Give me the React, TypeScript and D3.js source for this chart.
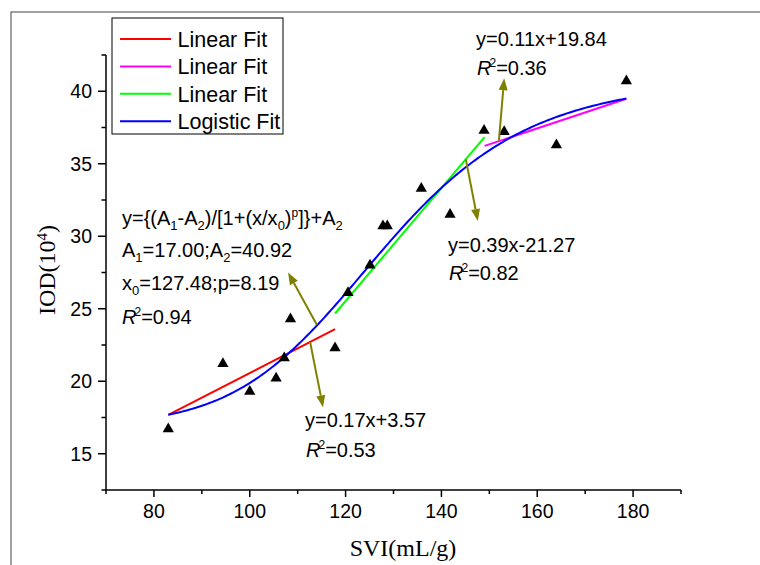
import React from 'react';
import * as d3 from 'd3';

// Scatter data (SVI in mL/g, IOD in 10^4)
const svi = [83, 94.4, 100, 105.5, 107.2, 108.5, 117.8, 120.5, 125.1, 127.8, 128.7, 135.8, 141.8, 148.9, 153.1, 164, 178.6];
const iod = [16.7, 21.2, 19.3, 20.2, 21.6, 24.3, 22.3, 26.1, 28.0, 30.7, 30.7, 33.3, 31.5, 37.3, 37.2, 36.3, 40.7];

const xMajorTicks = [80, 100, 120, 140, 160, 180];
const xMinorTicks = [70, 90, 110, 130, 150, 170, 190];
const yMajorTicks = [15, 20, 25, 30, 35, 40];
const yMinorTicks = [12.5, 17.5, 22.5, 27.5, 32.5, 37.5, 42.5];

const fitNames = ['Linear Fit', 'Linear Fit', 'Linear Fit', 'Logistic Fit'];
const fitColors = ['#ff0000', '#ff00ff', '#00ff00', '#0000ff'];

// linear fits: red, magenta, green
const linearSlopes = [0.17, 0.11, 0.39];
const linearIntercepts = [3.57, 19.84, -21.27];
const linearStarts = [83, 149, 117.8];
const linearEnds = [117.8, 178.6, 149];

// logistic fit
const logA1 = 17.0;
const logA2 = 40.92;
const logX0 = 127.48;
const logP = 8.19;
const logRange = [83, 178.6];

// annotation arrows (data coordinates): from point on fit -> arrow head
const arrowFrom = [[114, 23.9], [112.6, 22.7], [152, 36.6], [145.1, 35.3]];
const arrowTo = [[108, 27.5], [115.3, 18.2], [153.1, 40.9], [147.6, 31.05]];

const SANS = "'Liberation Sans', Arial, sans-serif";
const SERIF = "'Liberation Serif', 'Times New Roman', serif";

type Seg = { t: string; sub?: boolean; sup?: boolean; it?: boolean; dx?: number };

function Rich({ x, y, segs, size }: { x: number; y: number; segs: Seg[]; size: number }) {
  let shift = 0;
  const spans = segs.map((s, i) => {
    const target = s.sub ? 5 : s.sup ? -8 : 0;
    const dy = target - shift;
    shift = target;
    const fs = s.sub ? 13 : s.sup ? 12 : size;
    return (
      <tspan key={i} dy={dy} dx={s.dx || 0} fontSize={fs} fontStyle={s.it ? 'italic' : 'normal'}>
        {s.t}
      </tspan>
    );
  });
  return (
    <text x={x} y={y} fontSize={size} fontFamily={SANS} fill="#000">
      {spans}
    </text>
  );
}

const R2 = (v: string): Seg[] => [
  { t: 'R', it: true },
  { t: '2', sup: true, dx: -2 },
  { t: '=' + v },
];

export default function App() {
  const x = d3.scaleLinear().domain([70, 190]).range([106, 681]);
  const y = d3.scaleLinear().domain([12.5, 42.5]).range([490, 55]);

  const lineGen = d3
    .line<[number, number]>()
    .x((d) => x(d[0]))
    .y((d) => y(d[1]));

  const logistic = (v: number) => (logA1 - logA2) / (1 + Math.pow(v / logX0, logP)) + logA2;
  const logPts: [number, number][] = d3
    .range(0, 201)
    .map((i) => logRange[0] + ((logRange[1] - logRange[0]) * i) / 200)
    .map((v) => [v, logistic(v)] as [number, number]);

  const tri = d3.symbol().type(d3.symbolTriangle).size(55)();

  const olive = '#808000';

  return (
    <svg
      width={760}
      height={565}
      style={{ position: 'absolute', left: 0, top: 0, background: '#fff' }}
    >
      <rect x={0} y={0} width={760} height={565} fill="#fff" />
      {/* frame */}
      <rect x={11} y={12} width={800} height={600} fill="none" stroke="#444" strokeWidth={1} />

      {/* fit lines */}
      {linearSlopes.map((m, i) => (
        <path
          key={'lf' + i}
          d={lineGen([
            [linearStarts[i], m * linearStarts[i] + linearIntercepts[i]],
            [linearEnds[i], m * linearEnds[i] + linearIntercepts[i]],
          ]) || ''}
          stroke={fitColors[i]}
          strokeWidth={2}
          fill="none"
        />
      ))}
      <path d={lineGen(logPts) || ''} stroke={fitColors[3]} strokeWidth={2} fill="none" />

      {/* points */}
      {svi.map((v, i) => (
        <path key={'p' + i} d={tri || ''} transform={`translate(${x(v)},${y(iod[i])})`} fill="#000" />
      ))}

      {/* arrows */}
      {arrowFrom.map((f, i) => {
        const x1 = x(f[0]);
        const y1 = y(f[1]);
        const x2 = x(arrowTo[i][0]);
        const y2 = y(arrowTo[i][1]);
        const ang = Math.atan2(y2 - y1, x2 - x1);
        const L = 12;
        const W = 4.5;
        const bx = x2 - L * Math.cos(ang);
        const by = y2 - L * Math.sin(ang);
        const px = -Math.sin(ang) * W;
        const py = Math.cos(ang) * W;
        return (
          <g key={'a' + i}>
            <line x1={x1} y1={y1} x2={bx} y2={by} stroke={olive} strokeWidth={2} />
            <polygon points={`${x2},${y2} ${bx + px},${by + py} ${bx - px},${by - py}`} fill={olive} />
          </g>
        );
      })}

      {/* axes */}
      <line x1={x(70)} x2={x(190)} y1={y(12.5)} y2={y(12.5)} stroke="#000" strokeWidth={1.5} />
      <line x1={x(70)} x2={x(70)} y1={y(12.5)} y2={y(42.5)} stroke="#000" strokeWidth={1.5} />
      {xMajorTicks.map((t) => (
        <g key={'xt' + t}>
          <line x1={x(t)} x2={x(t)} y1={y(12.5)} y2={y(12.5) + 7} stroke="#000" strokeWidth={1.5} />
          <text x={x(t)} y={518} textAnchor="middle" fontSize={19.5} fontFamily={SANS}>
            {t}
          </text>
        </g>
      ))}
      {xMinorTicks.map((t) => (
        <line key={'xm' + t} x1={x(t)} x2={x(t)} y1={y(12.5)} y2={y(12.5) + 4} stroke="#000" strokeWidth={1.5} />
      ))}
      {yMajorTicks.map((t) => (
        <g key={'yt' + t}>
          <line x1={x(70) - 8} x2={x(70)} y1={y(t)} y2={y(t)} stroke="#000" strokeWidth={1.5} />
          <text x={92} y={y(t) + 7} textAnchor="end" fontSize={19.5} fontFamily={SANS}>
            {t}
          </text>
        </g>
      ))}
      {yMinorTicks.map((t) => (
        <line key={'ym' + t} x1={x(70) - 4.5} x2={x(70)} y1={y(t)} y2={y(t)} stroke="#000" strokeWidth={1.5} />
      ))}

      {/* axis titles */}
      <text x={403} y={556} textAnchor="middle" fontSize={24} fontFamily={SERIF}>
        SVI(mL/g)
      </text>
      <text transform="translate(55,270) rotate(-90)" textAnchor="middle" fontSize={24} fontFamily={SERIF}>
        <tspan>IOD(10</tspan>
        <tspan dy={-8} fontSize={15}>4</tspan>
        <tspan dy={8}>)</tspan>
      </text>

      {/* legend */}
      <rect x={112} y={18} width={171} height={116} fill="#fff" stroke="#000" strokeWidth={1} />
      {fitNames.map((n, i) => {
        const ry = 39 + i * 27.4;
        return (
          <g key={'lg' + i}>
            <line x1={120} x2={171} y1={ry} y2={ry} stroke={fitColors[i]} strokeWidth={2} />
            <text x={177.5} y={ry + 7.7} fontSize={21.5} fontFamily={SANS}>
              {n}
            </text>
          </g>
        );
      })}

      {/* logistic annotation */}
      <Rich
        x={122}
        y={225}
        size={20}
        segs={[
          { t: 'y={(A' },
          { t: '1', sub: true },
          { t: '-A' },
          { t: '2', sub: true },
          { t: ')/[1+(x/x' },
          { t: '0', sub: true },
          { t: ')' },
          { t: 'p', sup: true },
          { t: ']}+A' },
          { t: '2', sub: true },
        ]}
      />
      <Rich
        x={122}
        y={257}
        size={20}
        segs={[{ t: 'A' }, { t: '1', sub: true }, { t: '=17.00;A' }, { t: '2', sub: true }, { t: '=40.92' }]}
      />
      <Rich x={122} y={290} size={20} segs={[{ t: 'x' }, { t: '0', sub: true }, { t: '=127.48;p=8.19' }]} />
      <Rich x={122} y={324} size={20} segs={R2('0.94')} />

      {/* red */}
      <Rich x={305} y={427} size={20} segs={[{ t: 'y=0.17x+3.57' }]} />
      <Rich x={306} y={457} size={20} segs={R2('0.53')} />

      {/* magenta */}
      <Rich x={476} y={46} size={20} segs={[{ t: 'y=0.11x+19.84' }]} />
      <Rich x={477} y={75} size={20} segs={R2('0.36')} />

      {/* green */}
      <Rich x={448} y={252} size={20} segs={[{ t: 'y=0.39x-21.27' }]} />
      <Rich x={449} y={280} size={20} segs={R2('0.82')} />
    </svg>
  );
}
